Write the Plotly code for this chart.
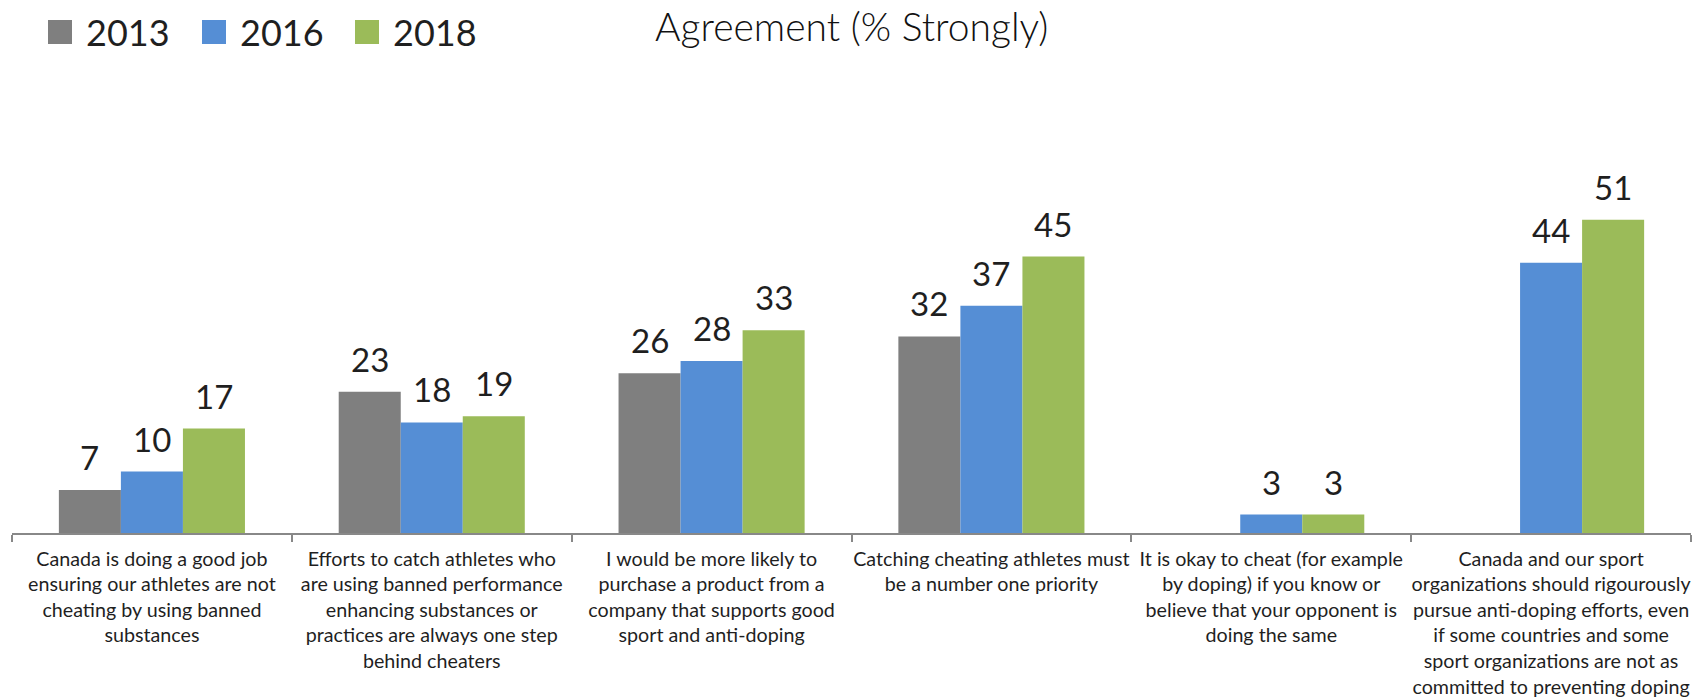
import plotly.graph_objects as go

# --- data -------------------------------------------------------------
categories = [
    "Canada is doing a good job ensuring our athletes are not cheating by using banned substances",
    "Efforts to catch athletes who are using banned performance enhancing substances or practices are always one step behind cheaters",
    "I would be more likely to purchase a product from a company that supports good sport and anti-doping",
    "Catching cheating athletes must be a number one priority",
    "It is okay to cheat (for example by doping) if you know or believe that your opponent is doing the same",
    "Canada and our sport organizations should rigourously pursue anti-doping efforts, even if some countries and some sport organizations are not as committed to preventing doping",
]
tick_labels = [
    "Canada is doing a good job<br>ensuring our athletes are not<br>cheating by using banned<br>substances",
    "Efforts to catch athletes who<br>are using banned performance<br>enhancing substances or<br>practices are always one step<br>behind cheaters",
    "I would be more likely to<br>purchase a product from a<br>company that supports good<br>sport and anti-doping",
    "Catching cheating athletes must<br>be a number one priority",
    "It is okay to cheat (for example<br>by doping) if you know or<br>believe that your opponent is<br>doing the same",
    "Canada and our sport<br>organizations should rigourously<br>pursue anti-doping efforts, even<br>if some countries and some<br>sport organizations are not as<br>committed to preventing doping",
]
series_names = ["2013", "2016", "2018"]
values_2013 = [7, 23, 26, 32, None, None]
values_2016 = [10, 18, 28, 37, 3, 44]
values_2018 = [17, 19, 33, 45, 3, 51]
series_values = [values_2013, values_2016, values_2018]
series_colors = ["#7F7F7F", "#558ED5", "#9BBB59"]

# --- layout geometry (pixels) -----------------------------------------
W, H = 1708, 699
ML, MR, MT, MB = 12, 17, 100, 166
PW, PH = W - ML - MR, H - MT - MB
Y_MAX = 70.5
BARGAP = 0.335

FONT = "Lato"
TEXT_COLOR = "#1F1F1F"


def paper_x(px):
    return (px - ML) / PW


def paper_y(py):
    return (H - MB - py) / PH


fig = go.Figure()
for name, vals, color in zip(series_names, series_values, series_colors):
    fig.add_trace(go.Bar(
        x=categories,
        y=vals,
        name=name,
        marker=dict(color=color, line=dict(width=0)),
        showlegend=False,
        hoverinfo="x+y+name",
    ))

# value labels above each bar
n_series = len(series_names)
bar_w = (1 - BARGAP) / n_series
annotations = []
for j, vals in enumerate(series_values):
    offset = (j - (n_series - 1) / 2) * bar_w
    for i, v in enumerate(vals):
        if v is None:
            continue
        annotations.append(dict(
            x=i + offset, y=v, xref="x", yref="y",
            text=str(v), showarrow=False,
            xanchor="center", yanchor="bottom", yshift=11,
            font=dict(family=FONT, size=33, color=TEXT_COLOR),
        ))

# custom legend: coloured squares with year labels
legend_items = [(48, 84), (202, 238), (355, 391)]
shapes = []
for (sq_x, txt_x), name, color in zip(legend_items, series_names, series_colors):
    shapes.append(dict(
        type="rect", xref="paper", yref="paper",
        x0=paper_x(sq_x), x1=paper_x(sq_x + 24),
        y0=paper_y(44), y1=paper_y(20),
        fillcolor=color, line=dict(width=0), layer="above",
    ))
    annotations.append(dict(
        x=paper_x(txt_x), y=paper_y(32), xref="paper", yref="paper",
        text=name, showarrow=False, xanchor="left", yanchor="middle",
        font=dict(family=FONT, size=36, color=TEXT_COLOR),
    ))

# chart title
annotations.append(dict(
    x=0.5, y=paper_y(26), xref="paper", yref="paper",
    text="Agreement (% Strongly)", showarrow=False,
    xanchor="center", yanchor="middle",
    font=dict(family=FONT, size=39, color="#111111", weight=300),
))

fig.update_layout(
    width=W, height=H,
    margin=dict(l=ML, r=MR, t=MT, b=MB, pad=0, autoexpand=False),
    paper_bgcolor="white", plot_bgcolor="white",
    barmode="group", bargap=BARGAP, bargroupgap=0,
    xaxis=dict(
        tickmode="array", tickvals=categories, ticktext=tick_labels,
        tickangle=0, tickson="boundaries", ticks="outside", ticklen=7,
        tickcolor="#888888", tickwidth=1.5,
        showline=True, linecolor="#888888", linewidth=2,
        showgrid=False, zeroline=False, automargin=False,
        ticklabelstandoff=7,
        tickfont=dict(family=FONT, size=19.7, color=TEXT_COLOR),
    ),
    yaxis=dict(
        range=[0, Y_MAX], visible=False, showgrid=False, zeroline=False,
        automargin=False,
    ),
    annotations=annotations,
    shapes=shapes,
    showlegend=False,
)

fig.write_html("out.html")
